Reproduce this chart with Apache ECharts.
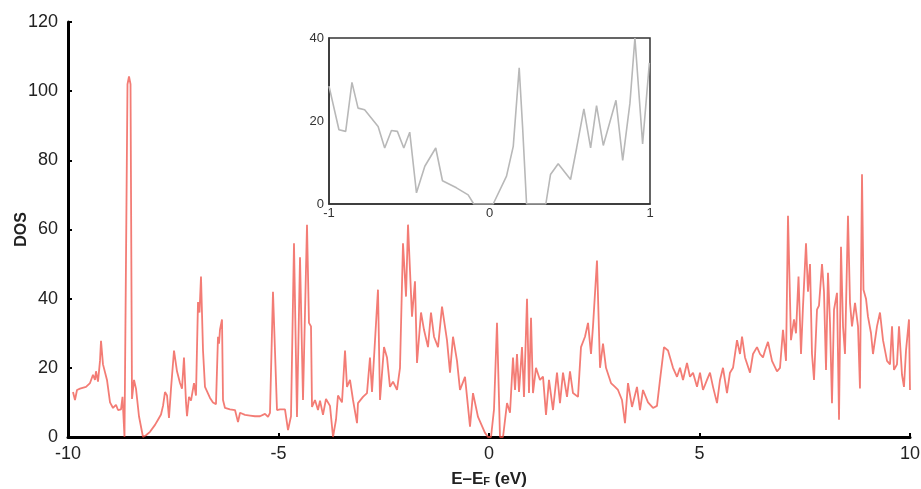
<!DOCTYPE html>
<html>
<head>
<meta charset="utf-8">
<script src="https://cdn.jsdelivr.net/npm/echarts@6/dist/echarts.min.js"></script>
<style>html,body{margin:0;padding:0;background:#fff}#c{width:921px;height:489px}</style>
</head>
<body>
<div id="c"></div>
<script>
// Main DOS curve (energy in eV relative to Fermi level, DOS)
var mainE = [-9.881,-9.834,-9.786,-9.715,-9.572,-9.477,-9.406,-9.359,-9.335,-9.287,-9.240,-9.216,-9.169,-9.074,-9.002,-8.931,-8.860,-8.812,-8.741,-8.705,-8.658,-8.587,-8.551,-8.515,-8.480,-8.432,-8.385,-8.314,-8.219,-8.147,-8.052,-7.933,-7.862,-7.791,-7.743,-7.696,-7.648,-7.601,-7.553,-7.482,-7.411,-7.340,-7.292,-7.245,-7.197,-7.173,-7.126,-7.078,-7.007,-6.960,-6.912,-6.876,-6.841,-6.793,-6.746,-6.627,-6.556,-6.485,-6.437,-6.413,-6.390,-6.342,-6.318,-6.271,-6.152,-6.033,-5.962,-5.914,-5.796,-5.677,-5.558,-5.439,-5.321,-5.249,-5.202,-5.131,-5.036,-4.964,-4.846,-4.774,-4.703,-4.632,-4.561,-4.489,-4.418,-4.323,-4.276,-4.228,-4.204,-4.133,-4.062,-4.014,-3.943,-3.872,-3.777,-3.705,-3.634,-3.587,-3.492,-3.420,-3.373,-3.302,-3.230,-3.135,-3.112,-2.993,-2.898,-2.827,-2.779,-2.637,-2.589,-2.494,-2.423,-2.352,-2.280,-2.185,-2.114,-2.043,-1.971,-1.924,-1.829,-1.758,-1.710,-1.615,-1.544,-1.449,-1.378,-1.306,-1.211,-1.116,-0.998,-0.926,-0.855,-0.760,-0.689,-0.570,-0.451,-0.380,-0.261,-0.095,-0.024,0.048,0.119,0.190,0.261,0.333,0.428,0.499,0.570,0.618,0.665,0.713,0.784,0.831,0.903,0.950,0.998,1.045,1.116,1.211,1.283,1.354,1.425,1.520,1.615,1.686,1.758,1.853,1.924,1.995,2.114,2.185,2.280,2.352,2.423,2.470,2.565,2.637,2.708,2.779,2.898,2.993,3.064,3.159,3.230,3.302,3.397,3.515,3.587,3.658,3.777,3.896,3.990,4.062,4.157,4.252,4.371,4.466,4.537,4.608,4.703,4.774,4.846,4.941,5.012,5.083,5.178,5.249,5.321,5.416,5.487,5.558,5.653,5.724,5.796,5.891,5.962,6.010,6.081,6.200,6.271,6.366,6.437,6.508,6.556,6.627,6.722,6.841,6.912,6.983,7.055,7.102,7.173,7.245,7.292,7.352,7.411,7.458,7.530,7.577,7.625,7.672,7.720,7.791,7.838,7.910,7.957,8.005,8.052,8.100,8.147,8.195,8.266,8.314,8.361,8.409,8.456,8.527,8.575,8.622,8.694,8.765,8.812,8.860,8.895,8.955,9.002,9.074,9.121,9.216,9.287,9.359,9.454,9.525,9.573,9.620,9.691,9.739,9.810,9.857,9.905,9.976,10.0];
var mainDOS = [13,10.7,13.6,14,14.5,15.6,18,16.5,19,16,22,27.8,21,16.5,10,8.4,9.3,7.8,8,11.6,0,102,104.3,102,11,16.5,14,6,0,0.5,1.5,3.5,5,6.5,9,13,12,5.5,14,25,19,15.6,14,23,10,6,11.6,10.5,15.6,12,39,36,46.4,25,14.5,11.3,10,9.5,29,27,31,34,10.7,8.4,8,7.8,4.3,7,6.4,6.2,6,6,6.7,5.8,7,42,7.8,8,8,2,6,56,5.8,52,10.7,61.4,33,32,8.7,10.7,7.8,10.5,6.4,11,9,0,5,12,10,25,14.5,16.5,10.7,4,9.8,11.6,12.7,23,13,42.6,10.7,26,23,14.5,16,13.6,20,56,40.6,61.4,34.8,45,21.4,36,31,26,36,29,26,37.7,28,18.6,29,22,13.6,17.4,3,12.7,5.8,1.2,0,0,8,33,0,0,9.8,7,23,13.6,24,13,26,11.6,40,12.7,34.5,12.7,20,16.5,17.5,6.4,16.5,7.8,18.6,9.8,18.6,11.6,19,12.7,11.6,26,29,33,24,32,51,20,27,20,15.6,14.5,13.6,10.7,4,15.6,8.7,14.5,7.8,13.6,10,8.4,9,16.5,26,25,20,17.4,20,16.5,21.4,17.4,18.6,14.5,18.6,13.6,16.5,18.6,14.5,9.8,16.5,20,12.7,18.6,20,28,24,29,23,18.6,24,26,24,23,25,27.5,22,19,20,31,22,64,28,34,30,46.4,24,37.7,56,42,50,24,16.5,36.8,38,50,42,19.4,47.5,33,9.8,36.8,41.7,5,55,32,24,64,38.8,32,38.8,32,14,76,42.6,40,34.8,30,24,32,36,28,22,21,32,19.4,21,32,18,14.5,25,34,13.6];

// Inset (zoom near Fermi level)
var insetE = [-1,-0.938,-0.896,-0.857,-0.819,-0.778,-0.694,-0.653,-0.611,-0.574,-0.534,-0.497,-0.455,-0.403,-0.335,-0.293,-0.206,-0.133,-0.098,0.023,0.106,0.148,0.185,0.206,0.231,0.351,0.380,0.428,0.505,0.543,0.588,0.630,0.667,0.709,0.788,0.830,0.875,0.906,0.954,0.996];
var insetDOS = [28.4,17.9,17.5,29.3,23.1,22.7,18.7,13.5,17.7,17.5,13.5,17.3,2.7,9.1,13.5,5.6,3.9,2.2,0,0,6.7,13.9,32.8,18.7,0,0,7.1,9.7,5.9,13.5,22.9,13.5,23.7,14.1,25,10.5,24.3,40,14.5,34];

var xTicks = [-10,-5,0,5,10];
var yTicks = [0,20,40,60,80,100,120];

function zip(a,b){var r=[];for(var i=0;i<a.length;i++)r.push([a[i],b[i]]);return r;}

var chart = echarts.init(document.getElementById('c'), null, {renderer:'canvas'});
var font = 'Liberation Sans, Arial, sans-serif';
chart.setOption({
  animation:false,
  backgroundColor:'#fff',
  grid:[
    {left:68,right:11,top:22,bottom:52,outerBoundsMode:'none',containLabel:false},
    {left:329,top:38,width:321,height:166,show:true,borderColor:'#333',borderWidth:1.5,backgroundColor:'#fff',z:10,outerBoundsMode:'none',containLabel:false}
  ],
  xAxis:[
    {gridIndex:0,type:'value',min:xTicks[0],max:xTicks[xTicks.length-1],interval:5,
     axisLine:{onZero:false,lineStyle:{color:'#000',width:3}},
     axisTick:{inside:true,length:4,lineStyle:{color:'#000',width:2}},
     axisLabel:{color:'#222',fontSize:18,fontFamily:font,margin:8},
     splitLine:{show:false},
     name:'E–E{s|F} (eV)',nameLocation:'middle',nameGap:34,nameMoveOverlap:false,
     nameTextStyle:{color:'#222',fontSize:17,fontWeight:'bold',fontFamily:font,
       rich:{s:{fontSize:11,fontWeight:'bold',color:'#222',fontFamily:font,padding:[5,0,0,0]}}}},
    {gridIndex:1,type:'value',min:-1,max:1,interval:1,z:11,
     axisLine:{onZero:false,lineStyle:{color:'#333',width:1.5}},
     axisTick:{show:false},
     axisLabel:{color:'#333',fontSize:13,fontFamily:font,margin:3},
     splitLine:{show:false}}
  ],
  yAxis:[
    {gridIndex:0,type:'value',min:yTicks[0],max:yTicks[yTicks.length-1],interval:20,
     axisLine:{show:true,onZero:false,lineStyle:{color:'#000',width:3}},
     axisTick:{show:true,inside:true,length:4,lineStyle:{color:'#000',width:2}},
     axisLabel:{color:'#222',fontSize:18,fontFamily:font,margin:10},
     splitLine:{show:false},
     name:'DOS',nameLocation:'middle',nameGap:38,nameMoveOverlap:false,
     nameTextStyle:{color:'#222',fontSize:16,fontWeight:'bold',fontFamily:font}},
    {gridIndex:1,type:'value',min:0,max:40,interval:20,z:11,
     axisLine:{show:true,onZero:false,lineStyle:{color:'#333',width:1.5}},
     axisTick:{show:false},
     axisLabel:{color:'#333',fontSize:13,fontFamily:font,margin:5},
     splitLine:{show:false}}
  ],
  series:[
    {type:'line',xAxisIndex:0,yAxisIndex:0,data:zip(mainE,mainDOS),showSymbol:false,
     lineStyle:{color:'#ef4a40',width:1.8,opacity:0.72},z:2},
    {type:'line',xAxisIndex:1,yAxisIndex:1,data:zip(insetE,insetDOS),showSymbol:false,
     lineStyle:{color:'#b8b8b8',width:1.6},z:12}
  ]
});
</script>
</body>
</html>
